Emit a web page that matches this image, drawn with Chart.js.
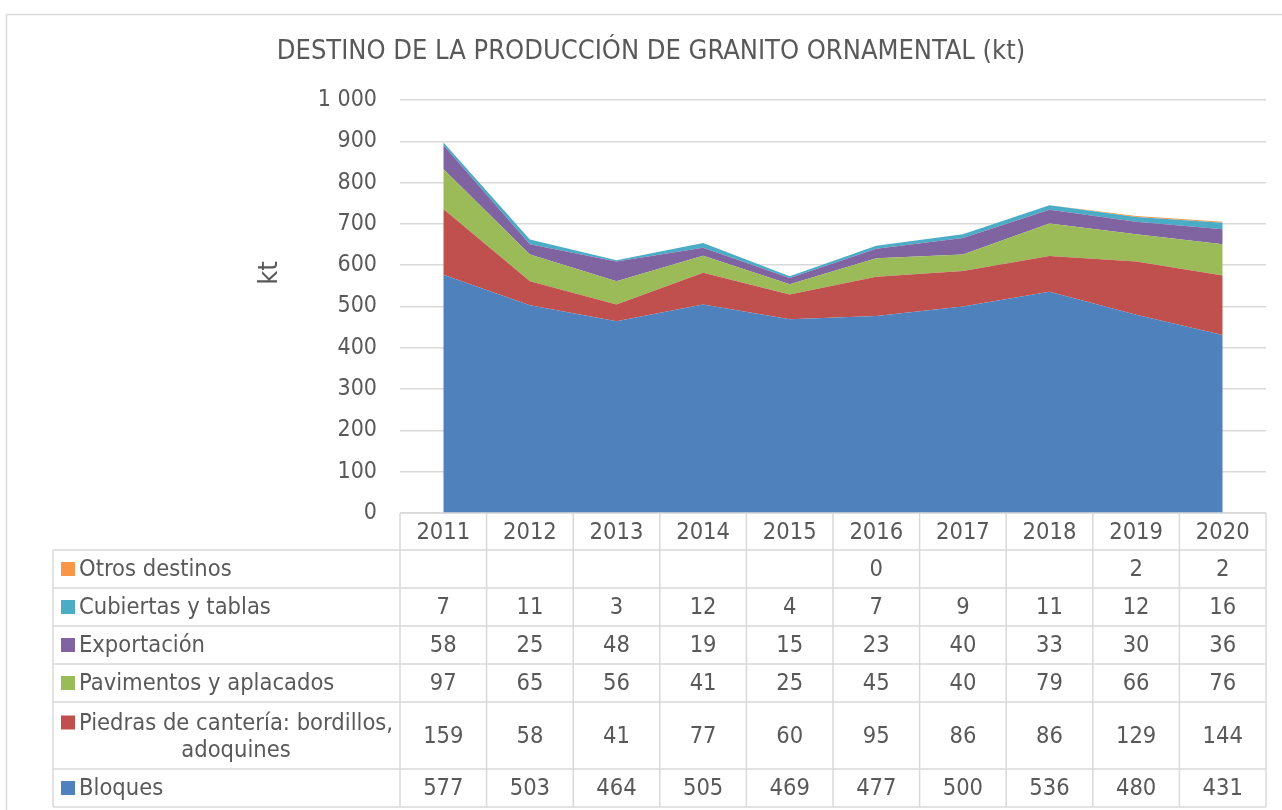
<!DOCTYPE html>
<html>
<head>
<meta charset="utf-8">
<script src="https://cdn.jsdelivr.net/npm/chart.js@4/dist/chart.umd.min.js"></script>
<style>
  html, body { margin: 0; padding: 0; background: #ffffff; }
  #wrap { width: 1282px; height: 810px; position: relative; }
</style>
</head>
<body>
<div id="wrap"><canvas id="c" width="1282" height="810"></canvas></div>
<script>
// ---- data ----
const years = ['2011', '2012', '2013', '2014', '2015', '2016', '2017', '2018', '2019', '2020'];
const bloques = [577, 503, 464, 505, 469, 477, 500, 536, 480, 431];
const piedras = [159, 58, 41, 77, 60, 95, 86, 86, 129, 144];
const pavimentos = [97, 65, 56, 41, 25, 45, 40, 79, 66, 76];
const exportacion = [58, 25, 48, 19, 15, 23, 40, 33, 30, 36];
const cubiertas = [7, 11, 3, 12, 4, 7, 9, 11, 12, 16];
const otros = [null, null, null, null, null, 0, null, null, 2, 2];
const seriesNames = ['Bloques', 'Piedras de cantería: bordillos, adoquines', 'Pavimentos y aplacados', 'Exportación', 'Cubiertas y tablas', 'Otros destinos'];
const titleText = 'DESTINO DE LA PRODUCCIÓN DE GRANITO ORNAMENTAL (kt)';
const yAxisTitle = 'kt';

const colors = ['#4F81BD', '#C0504D', '#9BBB59', '#8064A2', '#4BACC6', '#F79646'];
const FONT = '"DejaVu Sans Condensed", "DejaVu Sans", sans-serif';
const TXT = '#595959';
const GRID = '#D9D9D9';

const seriesValues = [bloques, piedras, pavimentos, exportacion, cubiertas, otros];

const datasets = seriesValues.map((vals, i) => ({
  label: seriesNames[i],
  data: vals.map(v => (v === null ? 0 : v)),
  backgroundColor: colors[i],
  borderColor: colors[i],
  borderWidth: 0,
  pointRadius: 0,
  pointHoverRadius: 0,
  fill: i === 0 ? 'origin' : '-1',
  tension: 0
}));

function fmt(v) {
  return String(v).replace(/\B(?=(\d{3})+(?!\d))/g, ' ');
}

// table rows, top to bottom
const tableRows = [
  { idx: 5, top: 550, bottom: 588, lines: ['Otros destinos'] },
  { idx: 4, top: 588, bottom: 626, lines: ['Cubiertas y tablas'] },
  { idx: 3, top: 626, bottom: 664, lines: ['Exportación'] },
  { idx: 2, top: 664, bottom: 702, lines: ['Pavimentos y aplacados'] },
  { idx: 1, top: 702, bottom: 769, lines: ['Piedras de cantería: bordillos,', 'adoquines'] },
  { idx: 0, top: 769, bottom: 807, lines: ['Bloques'] }
];

const decor = {
  id: 'decor',
  afterDraw(chart) {
    const ctx = chart.ctx;
    const xs = chart.scales.x;
    const area = chart.chartArea;
    const colW = (area.right - area.left) / years.length;
    const tableLeft = 53;
    const headerTop = 513, headerBottom = 550;
    ctx.save();

    // outer frame
    ctx.strokeStyle = GRID;
    ctx.lineWidth = 1.5;
    ctx.beginPath();
    ctx.moveTo(6.5, 820);
    ctx.lineTo(6.5, 14.5);
    ctx.lineTo(1290, 14.5);
    ctx.stroke();

    // title
    ctx.fillStyle = TXT;
    ctx.font = '27px ' + FONT;
    ctx.textAlign = 'center';
    ctx.textBaseline = 'middle';
    ctx.fillText(titleText, 651, 52);

    // y axis title
    ctx.save();
    ctx.translate(270, 273);
    ctx.rotate(-Math.PI / 2);
    ctx.font = '27px ' + FONT;
    ctx.fillText(yAxisTitle, 0, 0);
    ctx.restore();

    // table grid
    ctx.strokeStyle = GRID;
    ctx.lineWidth = 1.5;
    ctx.beginPath();
    ctx.moveTo(area.left, headerTop); ctx.lineTo(area.right, headerTop);
    ctx.moveTo(tableLeft, headerBottom); ctx.lineTo(area.right, headerBottom);
    tableRows.forEach(r => {
      ctx.moveTo(tableLeft, r.bottom); ctx.lineTo(area.right, r.bottom);
    });
    ctx.moveTo(tableLeft, headerBottom); ctx.lineTo(tableLeft, 807);
    for (let i = 0; i <= years.length; i++) {
      const x = area.left + i * colW;
      ctx.moveTo(x, headerTop); ctx.lineTo(x, 807);
    }
    ctx.stroke();

    ctx.font = '23.5px ' + FONT;
    ctx.fillStyle = TXT;
    ctx.textBaseline = 'middle';
    ctx.textAlign = 'center';
    years.forEach((y, i) => {
      ctx.fillText(y, xs.getPixelForValue(i), (headerTop + headerBottom) / 2 + 1);
    });

    tableRows.forEach(r => {
      const vals = seriesValues[r.idx];
      const mid = (r.top + r.bottom) / 2 + 1;
      vals.forEach((v, i) => {
        if (v === null) return;
        ctx.textAlign = 'center';
        ctx.fillStyle = TXT;
        ctx.fillText(String(v), xs.getPixelForValue(i), mid);
      });
      if (r.lines.length === 1) {
        ctx.fillStyle = colors[r.idx];
        ctx.fillRect(61, mid - 8, 14, 14);
        ctx.fillStyle = TXT;
        ctx.textAlign = 'left';
        ctx.fillText(r.lines[0], 79, mid);
      } else {
        const y1 = mid - 13, y2 = mid + 14;
        ctx.fillStyle = colors[r.idx];
        ctx.fillRect(61, y1 - 8, 14, 14);
        ctx.fillStyle = TXT;
        ctx.textAlign = 'left';
        ctx.fillText(r.lines[0], 79, y1);
        ctx.textAlign = 'center';
        ctx.fillText(r.lines[1], 236, y2);
      }
    });
    ctx.restore();
  }
};

new Chart(document.getElementById('c'), {
  type: 'line',
  data: { labels: years, datasets },
  options: {
    responsive: false,
    animation: false,
    layout: { padding: { top: 100, right: 16, bottom: 297, left: 0 } },
    plugins: {
      legend: { display: false },
      title: { display: false },
      tooltip: { enabled: false },
      filler: { propagate: false }
    },
    elements: { line: { borderWidth: 0 } },
    scales: {
      x: {
        type: 'category',
        display: false,
        offset: true
      },
      y: {
        stacked: true,
        min: 0,
        max: 1000,
        border: { display: false },
        grid: { color: GRID, lineWidth: 1.5, drawTicks: false },
        ticks: {
          stepSize: 100,
          padding: 23,
          color: TXT,
          font: { family: FONT, size: 23 },
          callback: v => fmt(v)
        },
        afterFit(scale) { scale.width = 400; }
      }
    }
  },
  plugins: [decor]
});
</script>
</body>
</html>
